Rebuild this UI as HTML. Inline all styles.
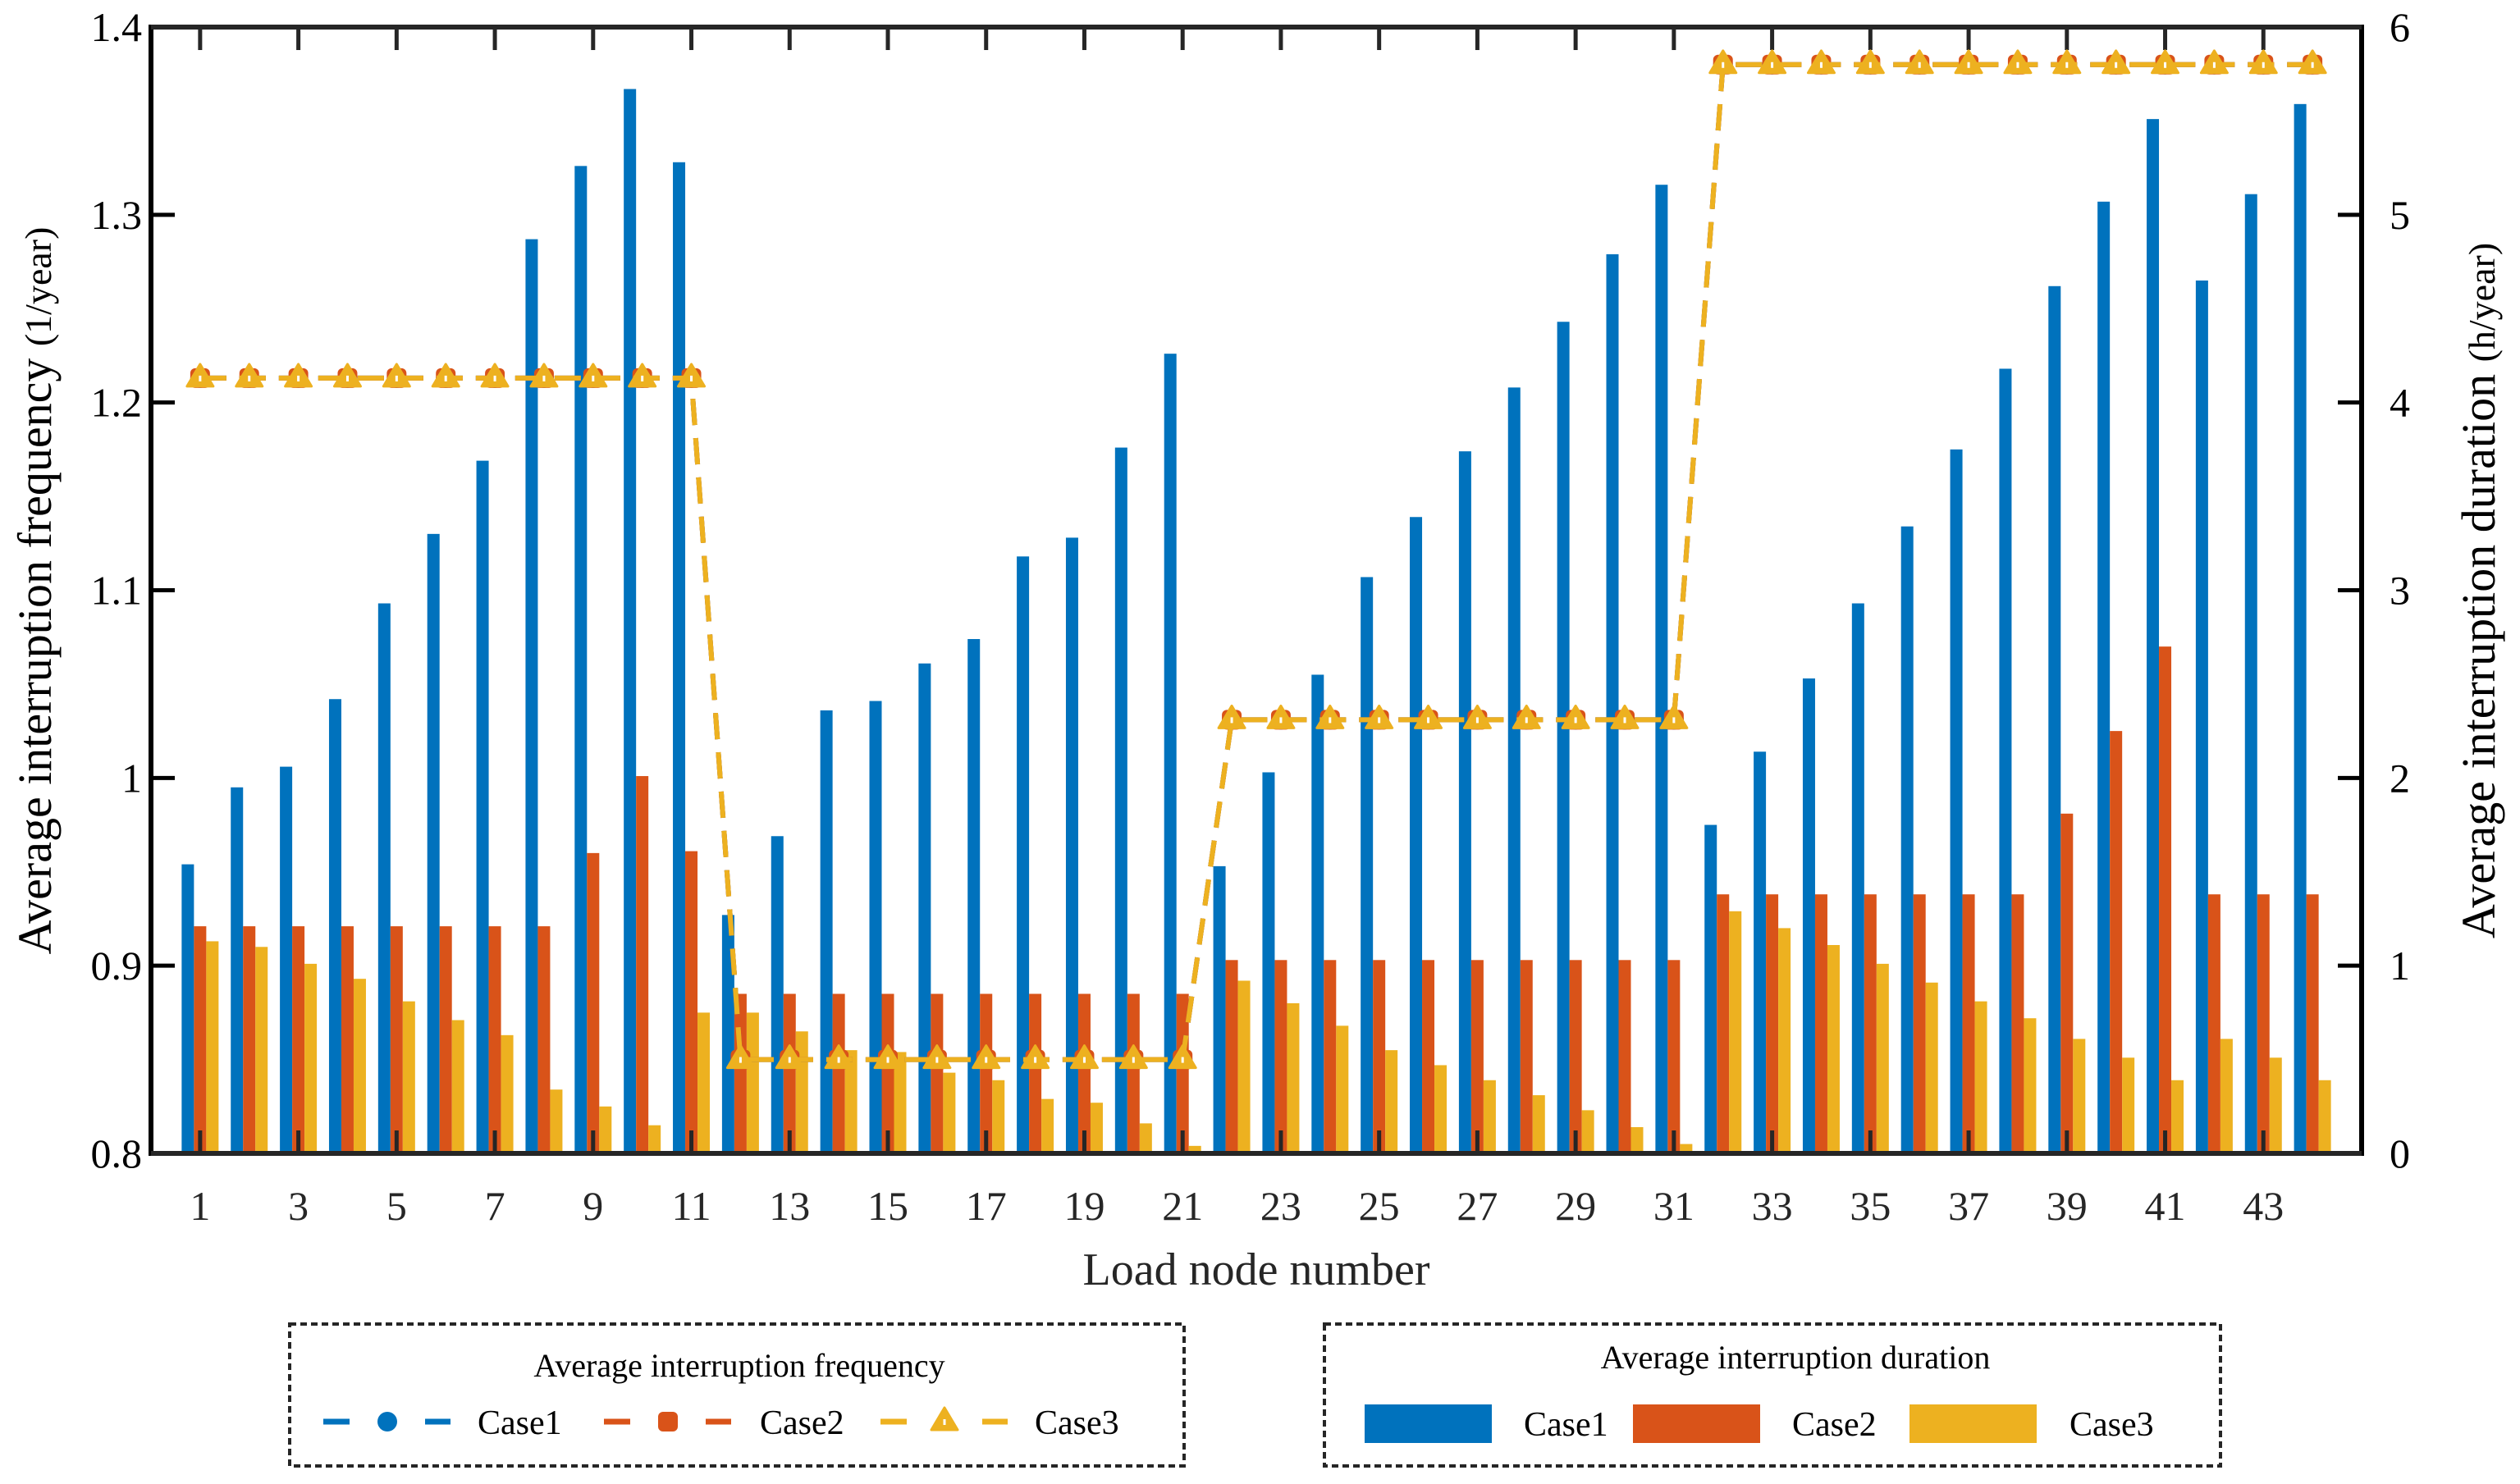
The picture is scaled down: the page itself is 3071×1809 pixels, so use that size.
<!DOCTYPE html>
<html><head><meta charset="utf-8">
<style>
html,body{margin:0;padding:0;background:#fff;}
svg{display:block;}
svg text{font-family:"Liberation Serif","DejaVu Serif",serif;}
</style></head>
<body>
<svg id="chart" width="3071" height="1809" viewBox="0 0 3071 1809" xmlns="http://www.w3.org/2000/svg"></svg>
<script>
const nodes = Array.from({length:44},(_,i)=>i+1);
const durCase1 = [1.54,1.95,2.06,2.42,2.93,3.30,3.69,4.87,5.26,5.67,5.28,1.27,1.69,2.36,2.41,2.61,2.74,3.18,3.28,3.76,4.26,1.53,2.03,2.55,3.07,3.39,3.74,4.08,4.43,4.79,5.16,1.75,2.14,2.53,2.93,3.34,3.75,4.18,4.62,5.07,5.51,4.65,5.11,5.59];
const durCase2 = [1.21,1.21,1.21,1.21,1.21,1.21,1.21,1.21,1.60,2.01,1.61,0.85,0.85,0.85,0.85,0.85,0.85,0.85,0.85,0.85,0.85,1.03,1.03,1.03,1.03,1.03,1.03,1.03,1.03,1.03,1.03,1.38,1.38,1.38,1.38,1.38,1.38,1.38,1.81,2.25,2.70,1.38,1.38,1.38];
const durCase3 = [1.13,1.10,1.01,0.93,0.81,0.71,0.63,0.34,0.25,0.15,0.75,0.75,0.65,0.55,0.54,0.43,0.39,0.29,0.27,0.16,0.04,0.92,0.80,0.68,0.55,0.47,0.39,0.31,0.23,0.14,0.05,1.29,1.20,1.11,1.01,0.91,0.81,0.72,0.61,0.51,0.39,0.61,0.51,0.39];
const freqCase1 = [1.213,1.213,1.213,1.213,1.213,1.213,1.213,1.213,1.213,1.213,1.213,0.85,0.85,0.85,0.85,0.85,0.85,0.85,0.85,0.85,0.85,1.031,1.031,1.031,1.031,1.031,1.031,1.031,1.031,1.031,1.031,1.38,1.38,1.38,1.38,1.38,1.38,1.38,1.38,1.38,1.38,1.38,1.38,1.38];
const freqCase2 = freqCase1.slice();
const freqCase3 = freqCase1.slice();
const leftTicks = [0.8,0.9,1,1.1,1.2,1.3,1.4];
const leftTickLabels = ["0.8","0.9","1","1.1","1.2","1.3","1.4"];
const rightTicks = [0,1,2,3,4,5,6];
const xTicks = [1,3,5,7,9,11,13,15,17,19,21,23,25,27,29,31,33,35,37,39,41,43];

const L=184,R=2878,T=33,B=1406;
const X=v=>L+(v/45)*(R-L);
const YL=v=>B-(v-0.8)/0.6*(B-T);
const YR=v=>B-(v/6)*(B-T);
const C=['#0072BD','#D95319','#EDB120'];
const FONT='"Liberation Serif", "DejaVu Serif", serif';
const NS='http://www.w3.org/2000/svg';
const svg=document.getElementById('chart');
function mk(tag,attrs,parent){const e=document.createElementNS(NS,tag);for(const k in attrs)e.setAttribute(k,attrs[k]);if(tag==='text')e.style.fontFamily=FONT;(parent||svg).appendChild(e);return e;}

const bw=15;
[durCase1,durCase2,durCase3].forEach((arr,s)=>{
  const g=mk('g',{});
  
  
  arr.forEach((v,i)=>{
    const cx=X(nodes[i])+(s-1)*bw;
    const r=mk('rect',{x:cx-bw/2,y:YR(v),width:bw,height:YR(0)-YR(v),fill:C[s]},g);
    
    
  });
});

const tk=mk('g',{stroke:'#262626','stroke-width':5});


xTicks.forEach(t=>{mk('line',{x1:X(t),x2:X(t),y1:B,y2:B-28},tk);mk('line',{x1:X(t),x2:X(t),y1:T,y2:T+28},tk);});
leftTicks.forEach(t=>mk('line',{x1:L,x2:L+29,y1:YL(t),y2:YL(t),stroke:'#000'},tk));
rightTicks.forEach(t=>mk('line',{x1:R,x2:R-29,y1:YR(t),y2:YR(t),stroke:'#000'},tk));

function marker(s,x,y,g){
  if(s===0) mk('circle',{cx:x,cy:y,r:12,fill:C[0]},g);
  else if(s===1) mk('rect',{x:x-12,y:y-12,width:24,height:24,rx:6,fill:C[1]},g);
  else {mk('path',{d:`M${x},${y-17} L${x+16},${y+10} L${x-16},${y+10} Z`,fill:C[2],stroke:C[2],'stroke-width':3,'stroke-linejoin':'round'},g);
        mk('rect',{x:x-1.5,y:y-3,width:3,height:7,fill:'#fff'},g);}
}
[freqCase1,freqCase2,freqCase3].forEach((arr,s)=>{
  const g=mk('g',{});
  
  
  const d=arr.map((v,i)=>(i?'L':'M')+X(nodes[i])+','+YL(v)).join(' ');
  mk('path',{d:d,fill:'none',stroke:C[s],'stroke-width':6,'stroke-dasharray':'32 16'},g);
  arr.forEach((v,i)=>marker(s,X(nodes[i]),YL(v),g));
});

const ax=mk('g',{fill:'none',stroke:'#000','stroke-width':6});


mk('line',{x1:L,x2:L,y1:T-3,y2:B+3},ax);
mk('line',{x1:R,x2:R,y1:T-3,y2:B+3},ax);
mk('line',{x1:L,x2:R,y1:T,y2:T,stroke:'#262626'},ax);
mk('line',{x1:L,x2:R,y1:B,y2:B,stroke:'#262626'},ax);

function txt(s,attrs,name){const e=mk('text',attrs);e.textContent=s;return e;}
leftTicks.forEach((t,i)=>txt(leftTickLabels[i],{x:173,y:YL(t)+17,'font-size':50,'text-anchor':'end',fill:'#000'},'y-left-tick-label'));
rightTicks.forEach(t=>txt(String(t),{x:2912,y:YR(t)+17,'font-size':50,fill:'#000'},'y-right-tick-label'));
xTicks.forEach(t=>txt(String(t),{x:X(t),y:1487,'font-size':50,'text-anchor':'middle',fill:'#262626'},'x-tick-label'));

txt('Load node number',{x:(L+R)/2,y:1566,'font-size':56,'text-anchor':'middle',fill:'#262626'},'x-axis-title');
const yl=txt('Average interruption frequency ',{x:0,y:0,'font-size':58,'text-anchor':'middle',fill:'#000',transform:'translate(62,720) rotate(-90)'},'y-left-axis-title');
const ts=mk('tspan',{'font-size':46});ts.textContent='(1/year)';yl.appendChild(ts);
const yr=txt('Average interruption duration ',{x:0,y:0,'font-size':58,'text-anchor':'middle',fill:'#000',transform:'translate(3040,720) rotate(-90)'},'y-right-axis-title');
const ts2=mk('tspan',{'font-size':46});ts2.textContent='(h/year)';yr.appendChild(ts2);

const lg1=mk('g',{});


mk('rect',{x:353,y:1614,width:1090,height:173,fill:'#fff',stroke:'#262626','stroke-width':4,'stroke-dasharray':'8 5'},lg1);
const t1=mk('text',{x:901,y:1678,'font-size':40,'text-anchor':'middle'},lg1);t1.textContent='Average interruption frequency';
[[394,582],[736,926],[1073,1261]].forEach((p,s)=>{
  const e=mk('g',{},lg1);
  
  
  mk('line',{x1:p[0],x2:p[0]+32,y1:1733,y2:1733,stroke:C[s],'stroke-width':7},e);
  mk('line',{x1:p[0]+124,x2:p[0]+155,y1:1733,y2:1733,stroke:C[s],'stroke-width':7},e);
  marker(s,p[0]+78,1733,e);
  const t=mk('text',{x:p[1],y:1748,'font-size':42},e);t.textContent='Case'+(s+1);
});

const lg2=mk('g',{});


mk('rect',{x:1614,y:1614,width:1092,height:173,fill:'#fff',stroke:'#262626','stroke-width':4,'stroke-dasharray':'8 5'},lg2);
const t2=mk('text',{x:2188,y:1668,'font-size':40,'text-anchor':'middle'},lg2);t2.textContent='Average interruption duration';
[[1663,1857],[1990,2184],[2327,2522]].forEach((p,s)=>{
  const e=mk('g',{},lg2);
  
  
  mk('rect',{x:p[0],y:1712,width:155,height:47,fill:C[s]},e);
  const t=mk('text',{x:p[1],y:1750,'font-size':42},e);t.textContent='Case'+(s+1);
});
</script>
</body></html>
